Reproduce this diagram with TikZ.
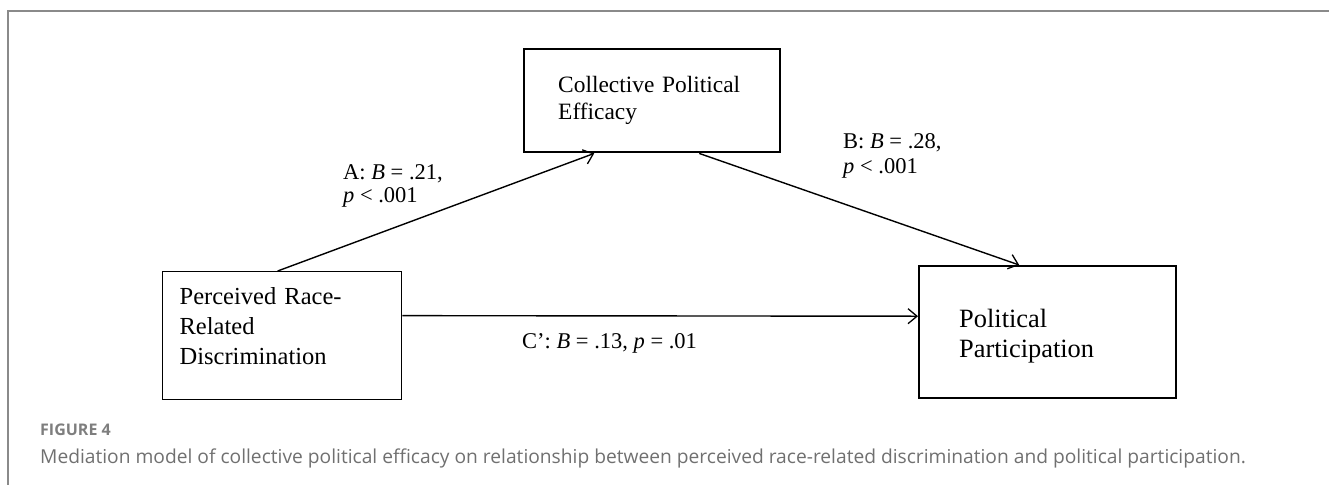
\documentclass[tikz,border=0pt]{standalone}
\usepackage{fontspec}
\setmainfont{Liberation Serif}
\newfontfamily\capfont{Open Sans}
\usetikzlibrary{arrows.meta}

\definecolor{framegray}{HTML}{8A8A8A}
\definecolor{capgray}{HTML}{707070}

\begin{document}
\begin{tikzpicture}[x=1pt,y=-1pt,
    varbox/.style={draw,anchor=north west,inner ysep=0pt,align=left},
    path/.style={line width=1.4pt,-{Straight Barb[length=9pt,width=15pt,line width=1.3pt]}},
    coef/.style={anchor=base west,inner sep=0pt,align=left,font=\fontsize{22.5}{23}\selectfont}]
  \useasboundingbox (0,0) rectangle (1329,485);
  \draw[line width=2pt,framegray] (1329,11) -- (8,11) -- (8,485);

  \node[varbox,line width=2.4pt,minimum width=256pt,minimum height=103pt,
        text width=188pt,inner xsep=34pt,font=\fontsize{23.4}{27}\selectfont]
    (coll) at (523,48) {Collective Political\\Efficacy};
  \node[varbox,line width=1.3pt,minimum width=239pt,minimum height=128pt,
        text width=205pt,inner xsep=17pt,font=\fontsize{24.5}{30}\selectfont]
    (perc) at (162,271) {Perceived Race-\\Related\\Discrimination\\[-10pt]\mbox{}};
  \node[varbox,line width=2.4pt,minimum width=257pt,minimum height=132pt,
        text width=177pt,inner xsep=40pt,font=\fontsize{26.4}{30}\selectfont]
    (part) at (918,265) {\rule{0pt}{26pt}Political\\Participation};

  \draw[path] ([xshift=-4.5pt]perc.north) -- ([xshift=-58pt]coll.south);
  \draw[path] ([xshift=47pt]coll.south) -- ([xshift=-28.5pt]part.north);
  \draw[path] ([yshift=20pt]perc.east) -- ([yshift=16pt]part.west);

  \node[coef] (ca) at (343,202) {A: \textit{B} = .21,\\\textit{p} < .001};
  \node[coef,font=\fontsize{22.5}{25}\selectfont] (cb) at (843,173) {B: \textit{B} = .28,\\\textit{p} < .001};
  \node[coef] (cc) at (522,348) {C’: \textit{B} = .13, \textit{p} = .01};

  \node[anchor=base west,inner sep=0pt,text=capgray!90,
        font=\capfont\bfseries\fontsize{16}{18}\selectfont] (fig) at (40,435) {FIGURE 4};
  \node[anchor=base west,inner sep=0pt,text=capgray,
        font=\capfont\fontsize{19.2}{22}\selectfont] (cap) at (40,463)
    {Mediation model of collective political efficacy on relationship between perceived race-related discrimination and political participation.};
\end{tikzpicture}
\end{document}
